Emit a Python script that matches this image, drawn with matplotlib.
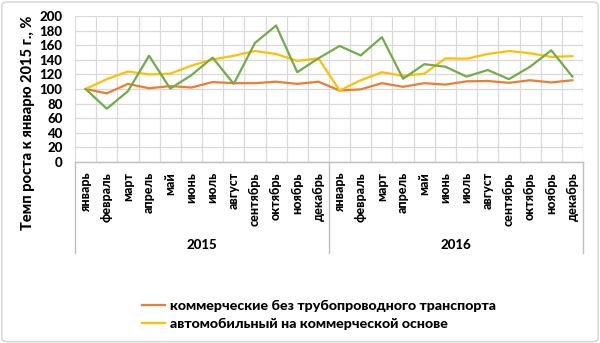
import matplotlib.pyplot as plt
from matplotlib.patches import FancyBboxPatch
from matplotlib.transforms import blended_transform_factory
from matplotlib.lines import Line2D

plt.rcParams['font.family'] = ['Lato', 'DejaVu Sans']
plt.rcParams['font.weight'] = 'black'

# data
months = ["январь", "февраль", "март", "апрель", "май", "июнь", "июль",
          "август", "сентябрь", "октябрь", "ноябрь", "декабрь"]
years = ["2015", "2016"]

commercial = [100, 94, 107, 101, 104, 102, 109.5, 108, 108, 110, 107, 110,
              98, 99.5, 108, 103, 108, 106, 110.5, 111, 108.5, 112, 109, 112]
auto = [100, 113.5, 124, 120, 121, 132, 140.5, 145.5, 152, 148, 138.5, 142,
        98, 112, 123, 118, 121, 142, 141.5, 148, 152, 149, 144, 145]
third = [100, 73, 97, 145.5, 100.5, 119, 143, 107, 163, 187, 123, 142,
         159, 146, 171, 114, 134, 130.5, 117, 126, 113.5, 130.5, 153, 117]

series_names = ["коммерческие без трубопроводного транспорта",
                "автомобильный на коммерческой основе"]

c_orange = "#ED7D31"
c_yellow = "#FFC000"
c_green = "#70AD47"
c_grid = "#D9D9D9"
c_axis = "#BFBFBF"
W = 'black'

fig = plt.figure(figsize=(6.0, 3.43), dpi=100)
ax = fig.add_axes([75 / 600, 1 - 162 / 343, 508 / 600, 146 / 343])

n = len(months) * len(years)
xs = [i + 0.5 for i in range(n)]

ax.plot(xs, commercial, color=c_orange, lw=1.6, label=series_names[0], zorder=3)
ax.plot(xs, auto, color=c_yellow, lw=1.6, label=series_names[1], zorder=3)
ax.plot(xs, third, color=c_green, lw=1.6, zorder=4)

ax.set_xlim(0, n)
ax.set_ylim(0, 200)
ax.set_yticks(range(0, 201, 20))
ax.set_xticks(range(0, n + 1))
ax.set_xticklabels([])
ax.tick_params(axis='both', length=0, labelsize=9.5, colors='#000000')
ax.tick_params(axis='y', pad=9)
for lab in ax.get_yticklabels():
    lab.set_fontweight(W)
ax.grid(True, color=c_grid, lw=0.9)
ax.set_axisbelow(True)
for side in ['top', 'right', 'left']:
    ax.spines[side].set_visible(False)
ax.spines['bottom'].set_color(c_axis)
ax.spines['bottom'].set_linewidth(1.0)

# category labels (months, then years)
trans = blended_transform_factory(ax.transData, ax.transAxes)
for yi, yr in enumerate(years):
    for mi, m in enumerate(months):
        ax.text(yi * 12 + mi + 0.5, -0.07, m, rotation=90, ha='center', va='top',
                fontsize=9, fontweight=W, transform=trans)
    ax.text(yi * 12 + 6, -0.57, yr, ha='center', va='center', fontsize=9.5,
            fontweight=W, transform=trans)
for xb in [0, 12, 24]:
    ax.add_line(Line2D([xb, xb], [0, -0.62], color=c_axis, lw=1.0,
                       transform=trans, clip_on=False))

fig.text(28 / 600, 1 - 123 / 343, "Темп роста к январю 2015 г., %", rotation=90,
         ha='center', va='center', fontsize=10.5, fontweight=W)

leg = fig.legend(loc='upper left', bbox_to_anchor=(136 / 600, 1 - 294 / 343),
                 frameon=False, fontsize=10.3, handlelength=1.65, handletextpad=0.35,
                 labelspacing=0.45, borderaxespad=0)
for t in leg.get_texts():
    t.set_fontweight(W)

# outer chart frame
frame = FancyBboxPatch((0.003, 0.004), 0.994, 0.99, boxstyle="round,pad=0,rounding_size=0.01",
                       transform=fig.transFigure, fill=False, ec="#D9D9D9", lw=1.2)
fig.patches.append(frame)

fig.savefig("out.png", dpi=100)
